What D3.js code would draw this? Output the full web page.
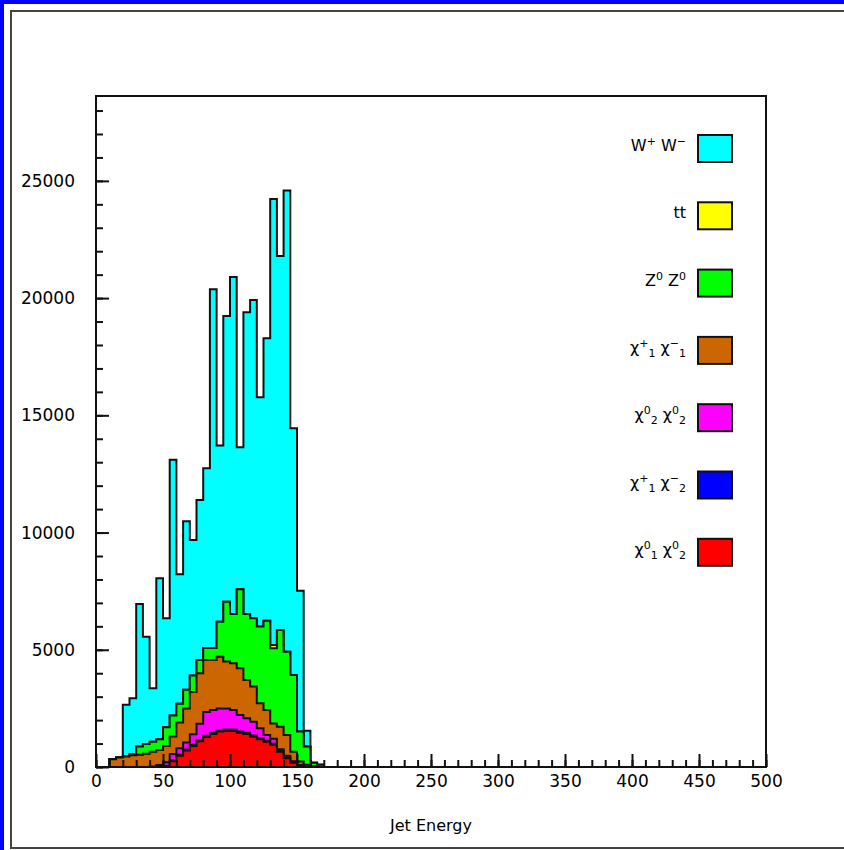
<!DOCTYPE html>
<html>
<head>
<meta charset="utf-8">
<script src="https://cdn.jsdelivr.net/npm/d3@7"></script>
<style>
  html, body { margin: 0; padding: 0; background: #fff; }
  svg { display: block; }
  text { font-family: "DejaVu Sans", sans-serif; fill: #000; }
</style>
</head>
<body>
<svg id="chart" width="844" height="850"></svg>
<script>
// ---- Data ----
// lower edges of the 5-GeV bins that carry entries
const binLow = [10,15,20,25,30,35,40,45,50,55,60,65,70,75,80,85,90,95,100,105,110,115,120,125,130,135,140,145,150,155,160,165];
const binWidth = 5;

// series, in stacking order bottom -> top
const chi01chi02 = [0,0,0,0,0,0,0,10,30,250,480,700,900,1100,1280,1410,1510,1550,1550,1460,1410,1290,1180,1080,950,650,370,180,50,0,0,0];
const chi1pchi2m = [0,0,0,0,0,0,0,10,20,30,40,50,50,50,50,50,50,50,50,50,50,50,50,40,40,40,30,20,10,0,0,0];
const chi02chi02 = [0,0,0,0,0,0,20,60,150,270,280,300,450,700,1020,970,940,900,830,710,620,590,420,245,210,70,80,40,20,10,0,0];
const chi1pchi1m = [330,410,450,500,520,560,630,640,700,750,1100,1450,1800,2150,2210,2130,2200,2000,1990,1990,1630,1500,1070,1065,660,960,885,410,150,90,30,0];
const z0z0       = [0,0,0,50,350,420,430,460,800,900,800,800,700,560,520,520,1500,2550,2110,3370,2820,2910,3270,3810,3200,4120,3555,3270,1280,770,150,100];
const ttbar      = [0,0,0,0,0,0,0,0,0,0,0,0,0,0,0,0,0,0,0,0,0,0,0,0,140,0,0,0,0,0,0,0];
const wpwm       = [0,0,2200,2380,6080,4580,2275,6870,4640,10900,5520,7180,5780,6830,7660,15300,7510,12190,14370,6060,12870,13580,9780,12050,19030,15960,19670,10530,6010,680,0,0];

const seriesKeys   = ["chi01chi02","chi1pchi2m","chi02chi02","chi1pchi1m","z0z0","ttbar","wpwm"];
const seriesData   = [chi01chi02, chi1pchi2m, chi02chi02, chi1pchi1m, z0z0, ttbar, wpwm];
const seriesColors = ["#ff0000","#0000ff","#ff00ff","#cc6600","#00ff00","#ffff00","#00ffff"];
// legend, top -> bottom ( ^{..} superscript, _{..} subscript )
const legendKeys   = ["wpwm","ttbar","z0z0","chi1pchi1m","chi02chi02","chi1pchi2m","chi01chi02"];
const legendLabels = ["W^{+} W^{−}","tt","Z^{0} Z^{0}","χ^{+}_{1} χ^{−}_{1}","χ^{0}_{2} χ^{0}_{2}","χ^{+}_{1} χ^{−}_{2}","χ^{0}_{1} χ^{0}_{2}"];

const xDomain = [0, 500];
const yDomain = [0, 28620];
const xMajor = d3.range(0, 501, 50);
const xMinor = d3.range(0, 501, 10);
const yMajor = d3.range(0, 25001, 5000);
const yMinor = d3.range(0, 28001, 1000);
const xTitle = "Jet Energy";

// ---- Drawing ----
const svg = d3.select("#chart");
const W = 844, H = 850;
const plot = {left: 96, right: 766, top: 96, bottom: 767};

// page decoration: blue border (top/left) and inner frame
svg.append("rect").attr("x",0).attr("y",0).attr("width",W).attr("height",4).attr("fill","#0000ff");
svg.append("rect").attr("x",0).attr("y",0).attr("width",4).attr("height",H).attr("fill","#0000ff");
svg.append("path")
  .attr("d", `M${W+5},11 H11 V848 H${W+5}`)
  .attr("fill","none").attr("stroke","#444").attr("stroke-width",2);

const x = d3.scaleLinear().domain(xDomain).range([plot.left, plot.right]);
const y = d3.scaleLinear().domain(yDomain).range([plot.bottom, plot.top]);

// stacked table
const table = binLow.map((lo, i) => {
  const row = {lo: lo};
  seriesKeys.forEach((k, s) => row[k] = seriesData[s][i]);
  return row;
});
const stacked = d3.stack().keys(seriesKeys)(table);

function stepPoints(layer) {
  const pts = [];
  layer.forEach((d) => {
    const lo = d.data.lo, hi = lo + binWidth;
    pts.push([lo, d[1]]);
    pts.push([hi, d[1]]);
  });
  return pts;
}
const area = d3.area()
  .x(p => x(p[0]))
  .y0(y(0))
  .y1(p => y(p[1]));

// draw from the topmost cumulative histogram down to the bottom one
for (let s = stacked.length - 1; s >= 0; s--) {
  const pts = stepPoints(stacked[s]);
  svg.append("path")
    .attr("d", area(pts))
    .attr("fill", seriesColors[s])
    .attr("stroke", "#111")
    .attr("stroke-width", 2)
    .attr("stroke-linejoin", "miter");
}

// axes (ticks pointing inward)
const fontSize = 17;
const gx = svg.append("g").attr("transform", `translate(0,${plot.bottom})`);
gx.call(d3.axisBottom(x).tickValues(xMinor).tickSize(-7).tickFormat(""));
gx.call(g => g.select(".domain").remove());
const gx2 = svg.append("g").attr("transform", `translate(0,${plot.bottom})`);
gx2.call(d3.axisBottom(x).tickValues(xMajor).tickSizeInner(-13).tickSizeOuter(0).tickPadding(8).tickFormat(d3.format("d")));
gx2.call(g => g.select(".domain").remove());
gx2.selectAll("text").attr("font-size", fontSize).attr("font-family","DejaVu Sans, sans-serif").attr("fill","#000");

const gy = svg.append("g").attr("transform", `translate(${plot.left},0)`);
gy.call(d3.axisLeft(y).tickValues(yMinor).tickSize(-7).tickFormat(""));
gy.call(g => g.select(".domain").remove());
const gy2 = svg.append("g").attr("transform", `translate(${plot.left},0)`);
gy2.call(d3.axisLeft(y).tickValues(yMajor).tickSizeInner(-13).tickSizeOuter(0).tickPadding(21).tickFormat(d3.format("d")));
gy2.call(g => g.select(".domain").remove());
gy2.selectAll("text").attr("font-size", fontSize).attr("font-family","DejaVu Sans, sans-serif").attr("fill","#000");

svg.selectAll(".tick line").attr("stroke","#111").attr("stroke-width",2);

// frame
svg.append("rect")
  .attr("x", plot.left).attr("y", plot.top)
  .attr("width", plot.right - plot.left).attr("height", plot.bottom - plot.top)
  .attr("fill","none").attr("stroke","#111").attr("stroke-width",2);

// x title
svg.append("text")
  .attr("x", 431).attr("y", 831)
  .attr("text-anchor","middle")
  .attr("font-size", 16)
  .text(xTitle);

// rich label: parse ^{...} and _{...}
function richText(sel, str) {
  const re = /(\^\{[^}]*\}|_\{[^}]*\})/g;
  const parts = str.split(re).filter(p => p.length);
  let shift = 0;
  parts.forEach(p => {
    let txt = p, target = 0, size = null;
    if (p.startsWith("^{")) { txt = p.slice(2, -1); target = -6; size = 11; }
    else if (p.startsWith("_{")) { txt = p.slice(2, -1); target = 4; size = 11; }
    const t = sel.append("tspan").attr("dy", target - shift).text(txt);
    if (size) t.attr("font-size", size);
    shift = target;
  });
}

// legend
const legTop = 135, legStep = 67.3;
legendKeys.forEach((k, i) => {
  const s = seriesKeys.indexOf(k);
  const ty = legTop + i * legStep;
  svg.append("rect")
    .attr("x", 698).attr("y", ty)
    .attr("width", 34).attr("height", 27)
    .attr("fill", seriesColors[s])
    .attr("stroke", "#111").attr("stroke-width", 2);
  const t = svg.append("text")
    .attr("x", 686).attr("y", ty + 16)
    .attr("text-anchor","end")
    .attr("font-size", 16);
  richText(t, legendLabels[i]);
});
</script>
</body>
</html>
